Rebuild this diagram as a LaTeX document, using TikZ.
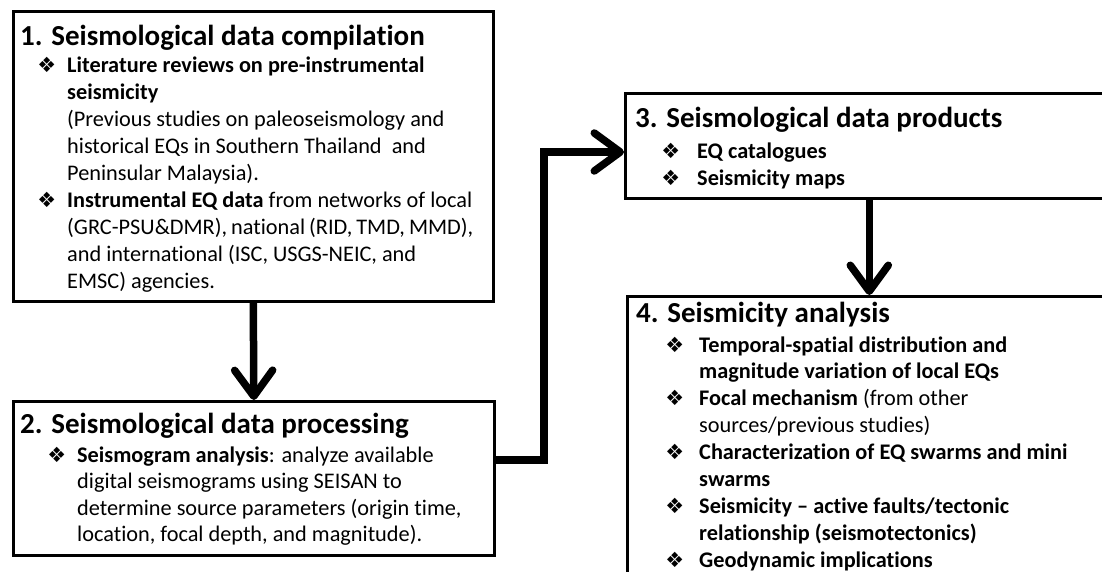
\documentclass[tikz,border=0pt]{standalone}
\usepackage{fontspec}
\setmainfont{Carlito}[Ligatures=NoCommon]
\newfontfamily\dv{DejaVu Sans}
\usetikzlibrary{arrows.meta}
\newcommand{\bu}[1]{\leavevmode\llap{{\dv\fontsize{21}{21}\selectfont ❖}\hspace{#1}}}
\tikzset{
  box/.style={draw=black, line width=2.6pt, rectangle, fill=white, inner sep=0pt, anchor=north west},
  ttl/.style={anchor=base west, inner sep=0pt, font=\fontsize{29}{34}\selectfont\bfseries},
  body/.style={anchor=base west, inner sep=0pt},
  conn/.style={line width=7.5pt, line join=miter},
  arr/.style={conn, -{Straight Barb[length=26pt,width=38pt,round]}}
}
\begin{document}
\begin{tikzpicture}[x=1pt,y=-1pt]
\useasboundingbox (0,0) rectangle (1102,571);
\clip (0,0) rectangle (1102,571);
\fill[white] (0,0) rectangle (1102,571);
% boxes
\node[box, minimum width=480pt, minimum height=290pt] (b1) at (12,10) {};
\node[box, minimum width=481pt, minimum height=154pt] (b2) at (12,400) {};
\node[box, minimum width=488pt, minimum height=105pt] (b3) at (624,92) {};
\node[box, minimum width=484pt, minimum height=310pt] (b4) at (626,295) {};
% box 1 text
\node[ttl] (t1) at (20,45) {1. Seismological data compilation};
\node[body] (x1) at (67,72) {\parbox[t]{600pt}{\fontsize{22.3}{27}\selectfont
\bu{11pt}\textbf{Literature reviews on pre-instrumental}\\
\textbf{seismicity}\\
(Previous studies on paleoseismology and\\
historical EQs in Southern Thailand\ \ and\\
Peninsular Malaysia).\\
\bu{11pt}\textbf{Instrumental EQ data} from networks of local\\
{\spaceskip=0.18em plus 0.05em\relax (GRC-PSU\&DMR), national (RID, TMD, MMD),}\\
and international (ISC, USGS-NEIC, and\\
EMSC) agencies.}};
% box 2 text
\node[ttl] (t2) at (20,433) {2. Seismological data processing};
\node[body] (x2) at (77,462) {\parbox[t]{600pt}{\fontsize{22.3}{26.5}\selectfont
\bu{11pt}\textbf{Seismogram analysis}: analyze available\\
digital seismograms using SEISAN to\\
determine source parameters (origin time,\\
location, focal depth, and magnitude).}};
% box 3 text
\node[ttl] (t3) at (635,127) {3. Seismological data products};
\node[body] (x3) at (697,158) {\parbox[t]{600pt}{\fontsize{22.3}{27}\selectfont
\bu{17pt}\textbf{EQ catalogues}\\
\bu{17pt}\textbf{Seismicity maps}}};
% box 4 text
\node[ttl] (t4) at (636,322) {4. Seismicity analysis};
\node[body] (x4) at (699,352) {\parbox[t]{600pt}{\fontsize{22.3}{26.9}\selectfont
\bu{15pt}\textbf{Temporal-spatial distribution and}\\
\textbf{magnitude variation of local EQs}\\
\bu{15pt}\textbf{Focal mechanism} (from other\\
sources/previous studies)\\
\bu{15pt}\textbf{Characterization of EQ swarms and mini}\\
\textbf{swarms}\\
\bu{15pt}\textbf{Seismicity -- active faults/tectonic}\\
\textbf{relationship (seismotectonics)}\\
\bu{15pt}\textbf{Geodynamic implications}}};
% connectors
\coordinate (k1) at (544,460);
\coordinate (k2) at (544,152);
\draw[arr] (b1.south) -- (b2.north);
\draw[arr] (b2.east |- k1) -- (k1) -- (k2) -- (b3.west |- k2);
\draw[arr] (b3.south) -- (b4.north);
\end{tikzpicture}
\end{document}
